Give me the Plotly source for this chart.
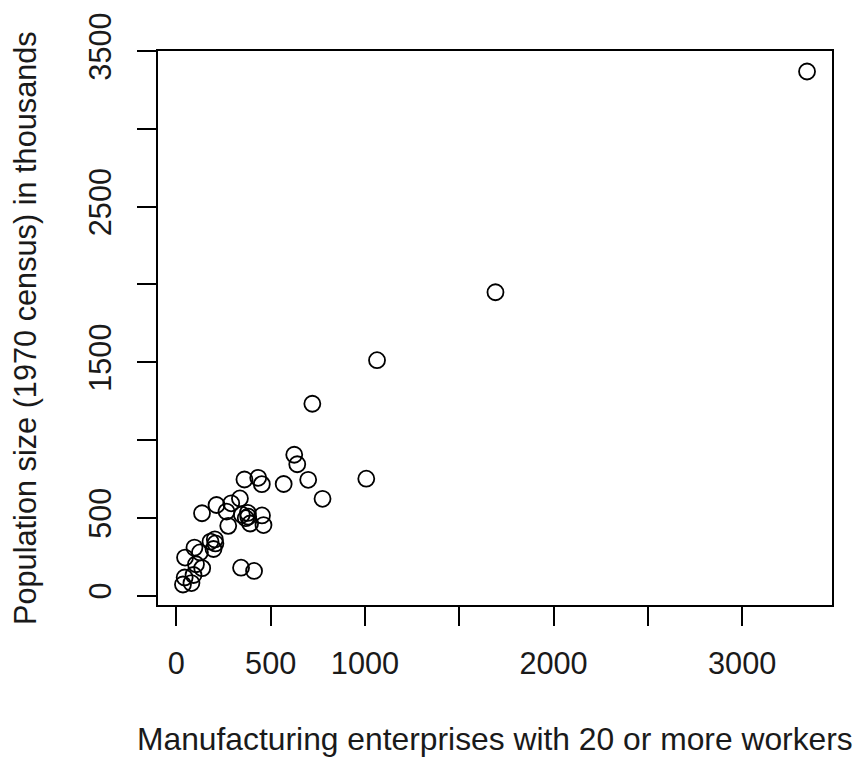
import plotly.graph_objects as go

cities = ["Albany","Albuquerque","Atlanta","Baltimore","Buffalo","Charleston","Chicago",
          "Cincinnati","Cleveland","Columbus","Dallas","Denver","Des Moines","Detroit",
          "Hartford","Houston","Indianapolis","Jacksonville","Kansas City","Little Rock",
          "Louisville","Memphis","Miami","Milwaukee","Minneapolis","Nashville","New Orleans",
          "Norfolk","Omaha","Philadelphia","Phoenix","Pittsburgh","Providence","Richmond",
          "Salt Lake City","San Francisco","Seattle","St. Louis","Washington","Wichita","Wilmington"]
manu = [44, 46, 368, 625, 391, 35, 3344, 462, 1007, 266, 641, 454, 104, 1064, 412, 721, 361,
        136, 381, 91, 291, 337, 207, 569, 699, 275, 204, 96, 181, 1692, 213, 347, 343, 197,
        137, 453, 379, 775, 434, 125, 80]
popul = [116, 244, 497, 905, 463, 71, 3369, 453, 751, 540, 844, 515, 201, 1513, 158, 1233, 746,
         529, 507, 132, 593, 624, 335, 717, 744, 448, 361, 308, 347, 1950, 582, 520, 179, 299,
         176, 716, 531, 622, 757, 277, 80]

x_ticks = [0, 500, 1000, 1500, 2000, 2500, 3000]
x_labels = ["0", "500", "1000", "", "2000", "", "3000"]
y_ticks = [0, 500, 1000, 1500, 2000, 2500, 3000, 3500]
y_labels = ["0", "500", "", "1500", "", "2500", "", "3500"]

x_title = "Manufacturing enterprises with 20 or more workers"
y_title = "Population size (1970 census) in thousands"

def ext(v):
    lo, hi = min(v), max(v)
    d = (hi - lo) * 0.04
    return [lo - d, hi + d]

FONT = "Liberation Sans, Arial, Helvetica, sans-serif"
fs = 30.7

fig = go.Figure(go.Scatter(
    x=manu, y=popul, mode="markers", text=cities,
    marker=dict(symbol="circle-open", size=16, color="black", line=dict(width=1.8, color="black")),
))

fig.update_layout(
    width=856, height=757,
    margin=dict(l=158, r=24, t=47, b=152),
    paper_bgcolor="white", plot_bgcolor="white",
    showlegend=False,
    font=dict(family=FONT, size=fs, color="black"),
)
fig.update_xaxes(
    range=ext(manu), tickvals=x_ticks, ticktext=x_labels,
    showgrid=False, zeroline=False, showline=True, linecolor="black", linewidth=2, mirror=True,
    ticks="outside", ticklen=19, tickwidth=2, tickcolor="black",
    tickfont=dict(family=FONT, size=fs, color="#1a1a1a"), ticklabelstandoff=11,
)
fig.update_yaxes(
    range=ext(popul), tickvals=y_ticks, ticktext=y_labels, tickangle=-90,
    showgrid=False, zeroline=False, showline=True, linecolor="black", linewidth=2, mirror=True,
    ticks="outside", ticklen=19, tickwidth=2, tickcolor="black",
    tickfont=dict(family=FONT, size=fs, color="#1a1a1a"), ticklabelstandoff=14,
)

fig.add_annotation(text=x_title, xref="paper", yref="paper", x=0.5, y=0, yshift=-134,
                   showarrow=False, xanchor="center", yanchor="middle",
                   font=dict(family=FONT, size=31.8, color="#1a1a1a"))
fig.add_annotation(text=y_title, xref="paper", yref="paper", x=0, y=0.5, xshift=-133,
                   textangle=-90, showarrow=False, xanchor="center", yanchor="middle",
                   font=dict(family=FONT, size=fs, color="#1a1a1a"))

fig.write_html("out.html", config={"displayModeBar": False},
               post_script="document.body.style.margin='0';")
